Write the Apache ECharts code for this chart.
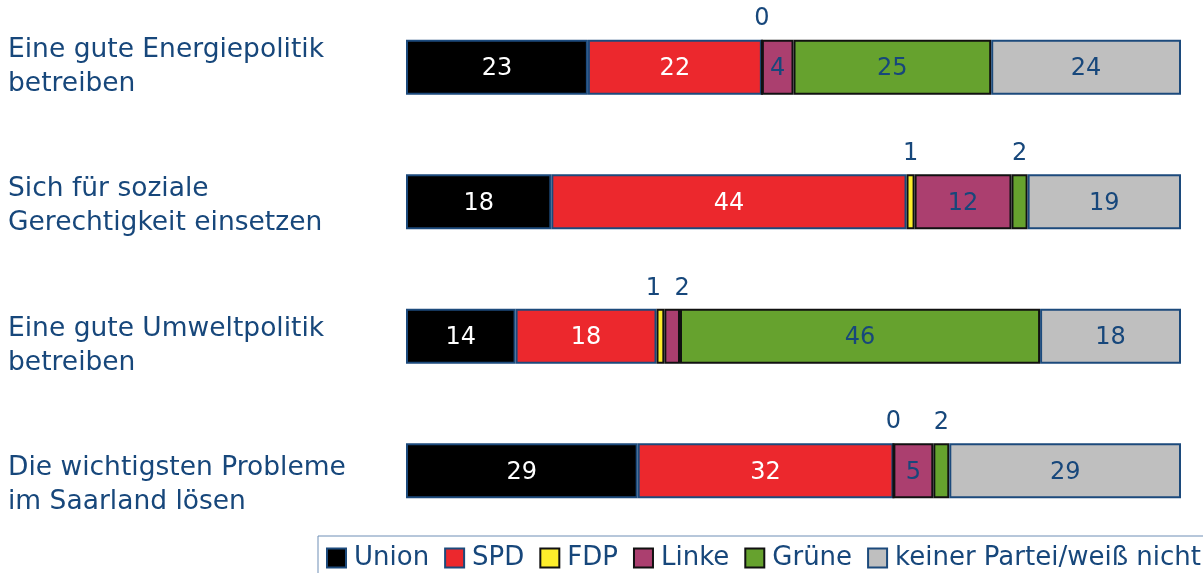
<!DOCTYPE html>
<html>
<head>
<meta charset="utf-8">
<title>Parteikompetenz Saarland</title>
<script src="https://cdn.jsdelivr.net/npm/echarts@6.0.0/dist/echarts.min.js"></script>
<style>
  html, body { margin: 0; padding: 0; background: #fff; }
  #chart { width: 1203px; height: 573px; }
</style>
</head>
<body>
<div id="chart"></div>
<script>
// Kategorien (Aufgaben) und Werte je Partei in Prozent
let categories = [
  "Eine gute Energiepolitik\nbetreiben",
  "Sich für soziale\nGerechtigkeit einsetzen",
  "Eine gute Umweltpolitik\nbetreiben",
  "Die wichtigsten Probleme\nim Saarland lösen"
];
let union = [23, 18, 14, 29];
let spd = [22, 44, 18, 32];
let fdp = [0, 1, 1, 0];
let linke = [4, 12, 2, 5];
let gruene = [25, 2, 46, 2];
let keine = [24, 19, 18, 29];

let fontFamily = "DejaVu Sans";
let blue = "#17477b";
let darkBorder = "#1c4a7c";

let parties = [
  { name: "Union", values: union, color: "#000000", border: darkBorder, text: "#ffffff" },
  { name: "SPD", values: spd, color: "#ec282d", border: darkBorder, text: "#ffffff" },
  { name: "FDP", values: fdp, color: "#fdee2b", border: "#111111", text: blue },
  { name: "Linke", values: linke, color: "#ab3f6f", border: "#111111", text: blue },
  { name: "Grüne", values: gruene, color: "#66a22e", border: "#111111", text: blue },
  { name: "keiner Partei/weiß nicht", values: keine, color: "#bfbfbf", border: darkBorder, text: blue }
];

// jede Zeile wird auf 100% gestreckt (wie im Original)
let totals = categories.map((c, i) => parties.reduce((s, p) => s + p.values[i], 0));

let series = parties.map((p, s) => {
  return {
    name: p.name,
    type: "bar",
    stack: "total",
    barWidth: 55,
    itemStyle: { color: p.color, borderColor: p.border, borderWidth: 2 },
    label: {
      show: true,
      position: "inside",
      offset: [0, 2],
      color: p.text,
      fontSize: 24,
      fontFamily: fontFamily,
      formatter: (params) => params.data.raw
    },
    data: p.values.map((v, i) => {
      let item = { value: v / totals[i] * 100, raw: v };
      if (v <= 2) {
        // kleine Werte stehen über dem Balken
        let dx = 0;
        let left = parties[s - 1] && parties[s - 1].values[i] <= 2;
        let right = parties[s + 1] && parties[s + 1].values[i] <= 2;
        if (right) dx = -7;
        if (left) dx = 10;
        item.label = { position: "top", distance: 8, color: blue, offset: [dx, 0] };
      }
      return item;
    })
  };
});

let chart = echarts.init(document.getElementById("chart"), null, { renderer: "canvas" });
chart.setOption({
  backgroundColor: "#ffffff",
  animation: false,
  textStyle: { fontFamily: fontFamily },
  grid: [
    { left: 406, right: 22, top: 0, bottom: 35 },
    { left: 406, right: 22, top: 67, bottom: 88 }
  ],
  xAxis: [
    { type: "value", gridIndex: 0, min: 0, max: 100, show: false },
    { type: "value", gridIndex: 1, min: 0, max: 100, show: false }
  ],
  yAxis: [
    {
      type: "category", gridIndex: 0, inverse: true, data: categories,
      axisLine: { show: false }, axisTick: { show: false }, axisLabel: { show: false }
    },
    {
      // Beschriftungen links, etwas weiter gespreizt als die Balken
      type: "category", gridIndex: 1, inverse: true, boundaryGap: false, data: categories,
      axisLine: { show: false }, axisTick: { show: false }, splitLine: { show: false },
      axisLabel: {
        align: "left",
        margin: 398,
        color: blue,
        fontSize: 26.5,
        lineHeight: 34,
        fontFamily: fontFamily
      }
    }
  ],
  legend: {
    left: 318,
    top: 536,
    width: 900,
    icon: "rect",
    itemWidth: 19,
    itemHeight: 19,
    itemGap: 15,
    padding: [9, 30, 12, 8],
    borderColor: "#6f8fb6",
    borderWidth: 1,
    textStyle: { color: blue, fontSize: 26, fontFamily: fontFamily, padding: [0, 0, 0, 3] },
    data: parties.map((p) => p.name)
  },
  series: series
});
</script>
</body>
</html>
